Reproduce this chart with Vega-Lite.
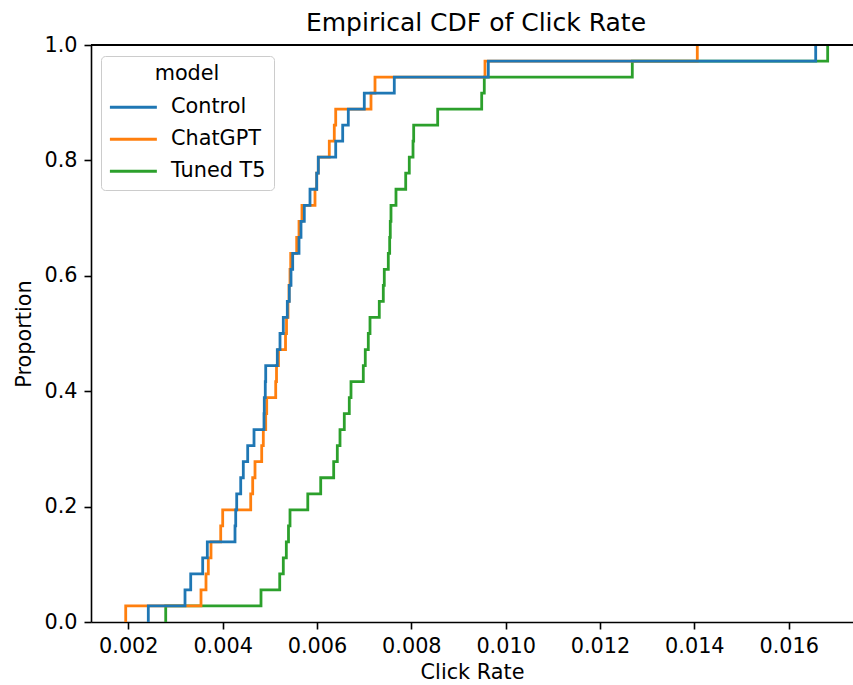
{
  "$schema": "https://vega.github.io/schema/vega-lite/v6.json",
  "autosize": "none",
  "width": 762,
  "height": 577,
  "padding": {"left": 91, "top": 45, "right": 0, "bottom": 63},
  "background": "white",
  "config": {
    "font": "DejaVu Sans",
    "view": {"stroke": null},
    "axis": {
      "grid": false,
      "domainColor": "black",
      "domainWidth": 1.6,
      "tickColor": "black",
      "tickWidth": 1.6,
      "tickSize": 7,
      "labelFontSize": 20.8,
      "labelColor": "black",
      "labelPadding": 7,
      "titleFontSize": 20.8,
      "titleFontWeight": "normal",
      "titleColor": "black"
    },
    "legend": {
      "labelFontSize": 20.8,
      "labelColor": "black",
      "titleFontSize": 20.8,
      "titleFontWeight": "normal",
      "titleColor": "black"
    }
  },
  "title": {
    "text": "Empirical CDF of Click Rate",
    "fontSize": 25,
    "fontWeight": "normal",
    "color": "black",
    "anchor": "middle",
    "offset": -2,
    "dx": 4
  },
  "data": {
    "values": [
      {"model": "Tuned T5", "click_rate": 0.002793, "proportion": 0},
      {"model": "Tuned T5", "click_rate": 0.002793, "proportion": 0.0278},
      {"model": "Tuned T5", "click_rate": 0.004813, "proportion": 0.0556},
      {"model": "Tuned T5", "click_rate": 0.005210, "proportion": 0.0833},
      {"model": "Tuned T5", "click_rate": 0.005286, "proportion": 0.1111},
      {"model": "Tuned T5", "click_rate": 0.005350, "proportion": 0.1389},
      {"model": "Tuned T5", "click_rate": 0.005396, "proportion": 0.1667},
      {"model": "Tuned T5", "click_rate": 0.005428, "proportion": 0.1944},
      {"model": "Tuned T5", "click_rate": 0.005805, "proportion": 0.2222},
      {"model": "Tuned T5", "click_rate": 0.006079, "proportion": 0.25},
      {"model": "Tuned T5", "click_rate": 0.006354, "proportion": 0.2778},
      {"model": "Tuned T5", "click_rate": 0.006431, "proportion": 0.3056},
      {"model": "Tuned T5", "click_rate": 0.006488, "proportion": 0.3333},
      {"model": "Tuned T5", "click_rate": 0.006579, "proportion": 0.3611},
      {"model": "Tuned T5", "click_rate": 0.006685, "proportion": 0.3889},
      {"model": "Tuned T5", "click_rate": 0.006721, "proportion": 0.4167},
      {"model": "Tuned T5", "click_rate": 0.006982, "proportion": 0.4444},
      {"model": "Tuned T5", "click_rate": 0.007024, "proportion": 0.4722},
      {"model": "Tuned T5", "click_rate": 0.007088, "proportion": 0.5},
      {"model": "Tuned T5", "click_rate": 0.007124, "proportion": 0.5278},
      {"model": "Tuned T5", "click_rate": 0.007321, "proportion": 0.5556},
      {"model": "Tuned T5", "click_rate": 0.007406, "proportion": 0.5833},
      {"model": "Tuned T5", "click_rate": 0.007427, "proportion": 0.6111},
      {"model": "Tuned T5", "click_rate": 0.007512, "proportion": 0.6389},
      {"model": "Tuned T5", "click_rate": 0.007541, "proportion": 0.6667},
      {"model": "Tuned T5", "click_rate": 0.007554, "proportion": 0.6944},
      {"model": "Tuned T5", "click_rate": 0.007569, "proportion": 0.7222},
      {"model": "Tuned T5", "click_rate": 0.007675, "proportion": 0.75},
      {"model": "Tuned T5", "click_rate": 0.007881, "proportion": 0.7778},
      {"model": "Tuned T5", "click_rate": 0.007957, "proportion": 0.8056},
      {"model": "Tuned T5", "click_rate": 0.008036, "proportion": 0.8333},
      {"model": "Tuned T5", "click_rate": 0.008050, "proportion": 0.8611},
      {"model": "Tuned T5", "click_rate": 0.008559, "proportion": 0.8889},
      {"model": "Tuned T5", "click_rate": 0.009492, "proportion": 0.9167},
      {"model": "Tuned T5", "click_rate": 0.009547, "proportion": 0.9444},
      {"model": "Tuned T5", "click_rate": 0.012685, "proportion": 0.9722},
      {"model": "Tuned T5", "click_rate": 0.016827, "proportion": 1},

      {"model": "ChatGPT", "click_rate": 0.001945, "proportion": 0},
      {"model": "ChatGPT", "click_rate": 0.001945, "proportion": 0.0278},
      {"model": "ChatGPT", "click_rate": 0.003541, "proportion": 0.0556},
      {"model": "ChatGPT", "click_rate": 0.003647, "proportion": 0.0833},
      {"model": "ChatGPT", "click_rate": 0.003696, "proportion": 0.1111},
      {"model": "ChatGPT", "click_rate": 0.003753, "proportion": 0.1389},
      {"model": "ChatGPT", "click_rate": 0.003959, "proportion": 0.1667},
      {"model": "ChatGPT", "click_rate": 0.004001, "proportion": 0.1944},
      {"model": "ChatGPT", "click_rate": 0.004595, "proportion": 0.2222},
      {"model": "ChatGPT", "click_rate": 0.004637, "proportion": 0.25},
      {"model": "ChatGPT", "click_rate": 0.004686, "proportion": 0.2778},
      {"model": "ChatGPT", "click_rate": 0.004828, "proportion": 0.3056},
      {"model": "ChatGPT", "click_rate": 0.004862, "proportion": 0.3333},
      {"model": "ChatGPT", "click_rate": 0.004913, "proportion": 0.3611},
      {"model": "ChatGPT", "click_rate": 0.004934, "proportion": 0.3889},
      {"model": "ChatGPT", "click_rate": 0.005125, "proportion": 0.4167},
      {"model": "ChatGPT", "click_rate": 0.005142, "proportion": 0.4444},
      {"model": "ChatGPT", "click_rate": 0.005184, "proportion": 0.4722},
      {"model": "ChatGPT", "click_rate": 0.005333, "proportion": 0.5},
      {"model": "ChatGPT", "click_rate": 0.005354, "proportion": 0.5278},
      {"model": "ChatGPT", "click_rate": 0.005386, "proportion": 0.5556},
      {"model": "ChatGPT", "click_rate": 0.005407, "proportion": 0.5833},
      {"model": "ChatGPT", "click_rate": 0.005428, "proportion": 0.6111},
      {"model": "ChatGPT", "click_rate": 0.005443, "proportion": 0.6389},
      {"model": "ChatGPT", "click_rate": 0.005570, "proportion": 0.6667},
      {"model": "ChatGPT", "click_rate": 0.005619, "proportion": 0.6944},
      {"model": "ChatGPT", "click_rate": 0.005682, "proportion": 0.7222},
      {"model": "ChatGPT", "click_rate": 0.005958, "proportion": 0.75},
      {"model": "ChatGPT", "click_rate": 0.005994, "proportion": 0.7778},
      {"model": "ChatGPT", "click_rate": 0.006028, "proportion": 0.8056},
      {"model": "ChatGPT", "click_rate": 0.006261, "proportion": 0.8333},
      {"model": "ChatGPT", "click_rate": 0.006367, "proportion": 0.8611},
      {"model": "ChatGPT", "click_rate": 0.006397, "proportion": 0.8889},
      {"model": "ChatGPT", "click_rate": 0.007145, "proportion": 0.9167},
      {"model": "ChatGPT", "click_rate": 0.007230, "proportion": 0.9444},
      {"model": "ChatGPT", "click_rate": 0.009562, "proportion": 0.9722},
      {"model": "ChatGPT", "click_rate": 0.014063, "proportion": 1},

      {"model": "Control", "click_rate": 0.002424, "proportion": 0},
      {"model": "Control", "click_rate": 0.002424, "proportion": 0.0278},
      {"model": "Control", "click_rate": 0.003202, "proportion": 0.0556},
      {"model": "Control", "click_rate": 0.003323, "proportion": 0.0833},
      {"model": "Control", "click_rate": 0.003577, "proportion": 0.1111},
      {"model": "Control", "click_rate": 0.003675, "proportion": 0.1389},
      {"model": "Control", "click_rate": 0.004262, "proportion": 0.1667},
      {"model": "Control", "click_rate": 0.004277, "proportion": 0.1944},
      {"model": "Control", "click_rate": 0.004298, "proportion": 0.2222},
      {"model": "Control", "click_rate": 0.004383, "proportion": 0.25},
      {"model": "Control", "click_rate": 0.004438, "proportion": 0.2778},
      {"model": "Control", "click_rate": 0.004531, "proportion": 0.3056},
      {"model": "Control", "click_rate": 0.004665, "proportion": 0.3333},
      {"model": "Control", "click_rate": 0.004877, "proportion": 0.3611},
      {"model": "Control", "click_rate": 0.004883, "proportion": 0.3889},
      {"model": "Control", "click_rate": 0.004904, "proportion": 0.4167},
      {"model": "Control", "click_rate": 0.004913, "proportion": 0.4444},
      {"model": "Control", "click_rate": 0.005159, "proportion": 0.4722},
      {"model": "Control", "click_rate": 0.005216, "proportion": 0.5},
      {"model": "Control", "click_rate": 0.005286, "proportion": 0.5278},
      {"model": "Control", "click_rate": 0.005371, "proportion": 0.5556},
      {"model": "Control", "click_rate": 0.005413, "proportion": 0.5833},
      {"model": "Control", "click_rate": 0.005449, "proportion": 0.6111},
      {"model": "Control", "click_rate": 0.005485, "proportion": 0.6389},
      {"model": "Control", "click_rate": 0.005619, "proportion": 0.6667},
      {"model": "Control", "click_rate": 0.005661, "proportion": 0.6944},
      {"model": "Control", "click_rate": 0.005731, "proportion": 0.7222},
      {"model": "Control", "click_rate": 0.005852, "proportion": 0.75},
      {"model": "Control", "click_rate": 0.005994, "proportion": 0.7778},
      {"model": "Control", "click_rate": 0.006028, "proportion": 0.8056},
      {"model": "Control", "click_rate": 0.006397, "proportion": 0.8333},
      {"model": "Control", "click_rate": 0.006545, "proportion": 0.8611},
      {"model": "Control", "click_rate": 0.006664, "proportion": 0.8889},
      {"model": "Control", "click_rate": 0.007003, "proportion": 0.9167},
      {"model": "Control", "click_rate": 0.007639, "proportion": 0.9444},
      {"model": "Control", "click_rate": 0.009632, "proportion": 0.9722},
      {"model": "Control", "click_rate": 0.016573, "proportion": 1}
    ]
  },
  "layer": [
    {
      "mark": {"type": "line", "interpolate": "step-after", "strokeWidth": 2.8},
      "encoding": {
        "x": {
          "field": "click_rate",
          "type": "quantitative",
          "title": "Click Rate",
          "scale": {"domain": [0.001209, 0.017364], "nice": false, "zero": false},
          "axis": {"values": [0.002, 0.004, 0.006, 0.008, 0.010, 0.012, 0.014, 0.016], "format": ".3f", "titlePadding": 7}
        },
        "y": {
          "field": "proportion",
          "type": "quantitative",
          "title": "Proportion",
          "scale": {"domain": [0, 1], "nice": false},
          "axis": {"values": [0, 0.2, 0.4, 0.6, 0.8, 1.0], "format": ".1f", "titlePadding": 9}
        },
        "color": {
          "field": "model",
          "type": "nominal",
          "scale": {"domain": ["Control", "ChatGPT", "Tuned T5"], "range": ["#1f77b4", "#ff7f0e", "#2ca02c"]},
          "legend": {
            "title": "model",
            "orient": "none",
            "legendX": 10,
            "legendY": 11,
            "padding": 8,
            "titlePadding": 5,
            "titleAnchor": "middle",
            "titleAlign": "center",
            "strokeColor": "#cccccc",
            "fillColor": "white",
            "cornerRadius": 4,
            "symbolType": "M-1.06,0H1.94",
            "symbolSize": 980,
            "symbolStrokeWidth": 3,
            "labelOffset": 27,
            "rowPadding": 4
          }
        },
        "order": {"field": "proportion", "type": "quantitative"}
      }
    },
    {
      "mark": {"type": "rule", "color": "black", "strokeWidth": 1.6},
      "encoding": {"y": {"datum": 1}}
    }
  ]
}
